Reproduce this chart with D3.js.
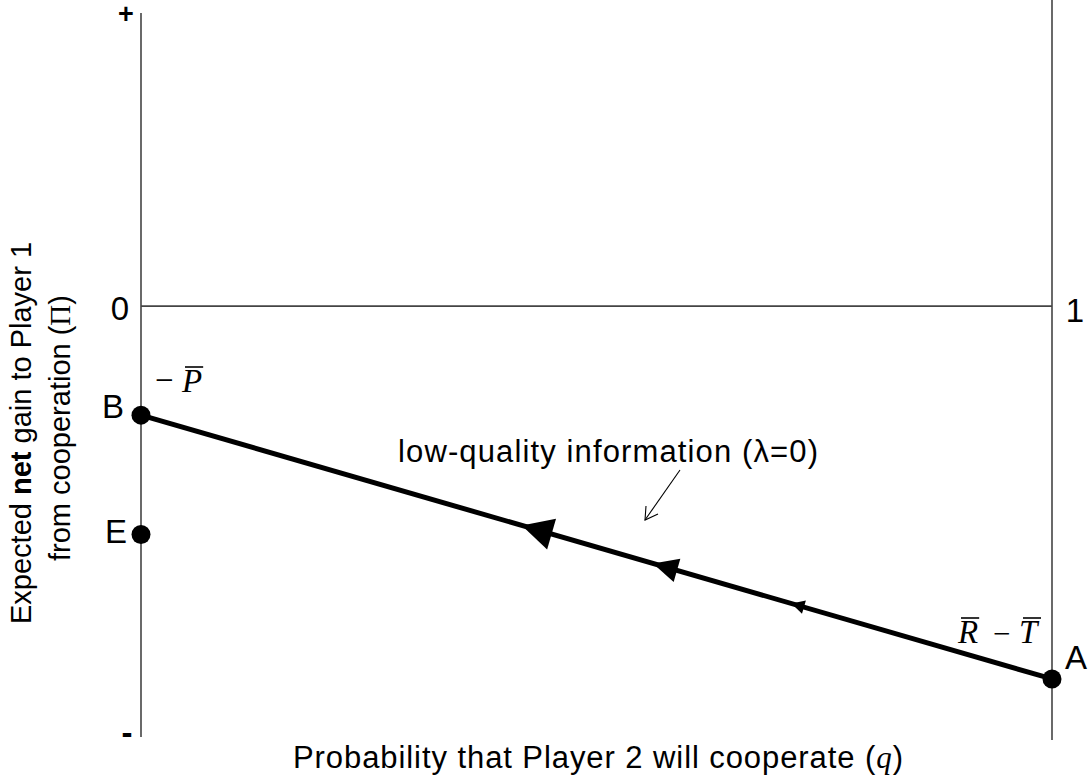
<!DOCTYPE html>
<html>
<head>
<meta charset="utf-8">
<script src="https://cdn.jsdelivr.net/npm/d3@7"></script>
<style>
  body { margin: 0; background: #fff; }
  text { font-family: Arial, "Liberation Sans", sans-serif; fill: #000; }
  .math { font-family: "Times New Roman", "Liberation Serif", serif; font-style: italic; }
</style>
</head>
<body>
<svg id="chart" width="1088" height="778"></svg>
<script>
// q = probability that player 2 cooperates, gain = expected net gain (arbitrary units)
var pointNames = ["B", "E", "A"];
var pointQ = [0, 0, 1];
var pointGain = [-0.372, -0.779, -1.272];

// low-quality information line runs from B to A
var lineQ = [0, 1];
var lineGain = [-0.372, -1.272];

// arrowheads along the line (tip position in q, length and half width in px)
var arrowQ = [0.418, 0.562, 0.714];
var arrowLen = [31, 25, 13];
var arrowHalf = [16, 12, 7];

var yTickLabels = ["+", "0", "-"];
var yTickValues = [1, 0, -1.47];

var svg = d3.select("#chart");
var x = d3.scaleLinear().domain([0, 1]).range([141, 1052]);
var y = d3.scaleLinear().domain([-1.47, 1]).range([737, 13]);

// frame: two verticals and the zero line
svg.append("line").attr("x1", x(0)).attr("x2", x(0)).attr("y1", y(1)).attr("y2", y(-1.47))
    .attr("stroke", "#444").attr("stroke-width", 1.6);
svg.append("line").attr("x1", x(1)).attr("x2", x(1)).attr("y1", 0).attr("y2", y(-1.47) + 3)
    .attr("stroke", "#444").attr("stroke-width", 1.6);
svg.append("line").attr("x1", x(0)).attr("x2", x(1)).attr("y1", y(0)).attr("y2", y(0))
    .attr("stroke", "#444").attr("stroke-width", 1.6);

// y "ticks"
var tickDx = [-15, -21, -14];
var tickDy = [10, 14, 7];
var tickSize = [27, 33, 33];
yTickLabels.forEach(function(t, i) {
    svg.append("text").attr("x", x(0) + tickDx[i]).attr("y", y(yTickValues[i]) + tickDy[i])
        .attr("text-anchor", "middle").attr("font-size", tickSize[i])
        .style("font-weight", t === "0" ? "normal" : "bold")
        .text(t);
});
svg.append("text").attr("x", x(1) + 23).attr("y", y(0) + 16)
    .attr("text-anchor", "middle").attr("font-size", 33).text("1");

// main line
svg.append("line")
    .attr("x1", x(lineQ[0])).attr("y1", y(lineGain[0]))
    .attr("x2", x(lineQ[1])).attr("y2", y(lineGain[1]))
    .attr("stroke", "#000").attr("stroke-width", 5);

// arrowheads pointing back towards B
var dx = x(lineQ[1]) - x(lineQ[0]), dy = y(lineGain[1]) - y(lineGain[0]);
var len = Math.sqrt(dx * dx + dy * dy);
var ux = dx / len, uy = dy / len;
arrowQ.forEach(function(q, i) {
    var tx = x(q);
    var ty = y(lineGain[0] + (lineGain[1] - lineGain[0]) * q);
    var s = arrowLen[i], w = arrowHalf[i];
    var bx = tx + ux * s, by = ty + uy * s;
    var pts = [[tx, ty], [bx - uy * w, by + ux * w], [bx + uy * w, by - ux * w]];
    svg.append("path").attr("d", "M" + pts.join("L") + "Z").attr("fill", "#000");
});

// points
var labelX = [113, 116, 1076];
var labelDy = [3, 9, -10];
pointNames.forEach(function(n, i) {
    svg.append("circle").attr("cx", x(pointQ[i])).attr("cy", y(pointGain[i])).attr("r", 9.5).attr("fill", "#000");
    svg.append("text").attr("x", labelX[i]).attr("y", y(pointGain[i]) + labelDy[i])
        .attr("text-anchor", "middle").attr("font-size", 33).text(n);
});

// overlined math symbol helper
function barred(px, py, letter) {
    var t = svg.append("text").attr("class", "math").attr("x", px).attr("y", py)
        .attr("font-size", 33).text(letter);
    var b = t.node().getBBox();
    svg.append("line").attr("x1", b.x + 4).attr("x2", b.x + b.width + 1)
        .attr("y1", b.y + 4).attr("y2", b.y + 4).attr("stroke", "#000").attr("stroke-width", 1.6);
}
svg.append("text").attr("x", 155).attr("y", 391).attr("font-size", 33)
    .style("font-family", "'Liberation Serif', serif").text("\u2212");
barred(182, 392, "P");
barred(958, 643, "R");
svg.append("text").attr("x", 993).attr("y", 644).attr("font-size", 31)
    .style("font-family", "'Liberation Serif', serif").text("\u2212");
barred(1019, 643, "T");

// annotation
svg.append("text").attr("x", 398).attr("y", 462)
    .attr("font-size", 31).attr("textLength", 420).attr("lengthAdjust", "spacing")
    .text("low-quality information (\u03bb=0)");
svg.append("line").attr("x1", 680).attr("y1", 470).attr("x2", 645).attr("y2", 520)
    .attr("stroke", "#000").attr("stroke-width", 1.1);
svg.append("path").attr("d", "M646,506L645,520L658,514")
    .attr("fill", "none").attr("stroke", "#000").attr("stroke-width", 1.1);

// axis titles
var xt = svg.append("text").attr("x", 293).attr("y", 768).attr("font-size", 31)
    .attr("textLength", 610).attr("lengthAdjust", "spacing");
xt.append("tspan").text("Probability that Player 2 will cooperate (");
xt.append("tspan").attr("class", "math").text("q");
xt.append("tspan").text(")");

var yt1 = svg.append("text").attr("transform", "translate(31,433) rotate(-90)")
    .attr("text-anchor", "middle").attr("font-size", 29);
yt1.append("tspan").text("Expected ");
yt1.append("tspan").style("font-weight", "bold").text("net");
yt1.append("tspan").text(" gain to Player 1");
var yt2 = svg.append("text").attr("transform", "translate(70,428) rotate(-90)")
    .attr("text-anchor", "middle").attr("font-size", 29);
yt2.append("tspan").text("from cooperation (");
yt2.append("tspan").style("font-family", "'Liberation Serif', serif").text("\u03a0");
yt2.append("tspan").text(")");
</script>
</body>
</html>
